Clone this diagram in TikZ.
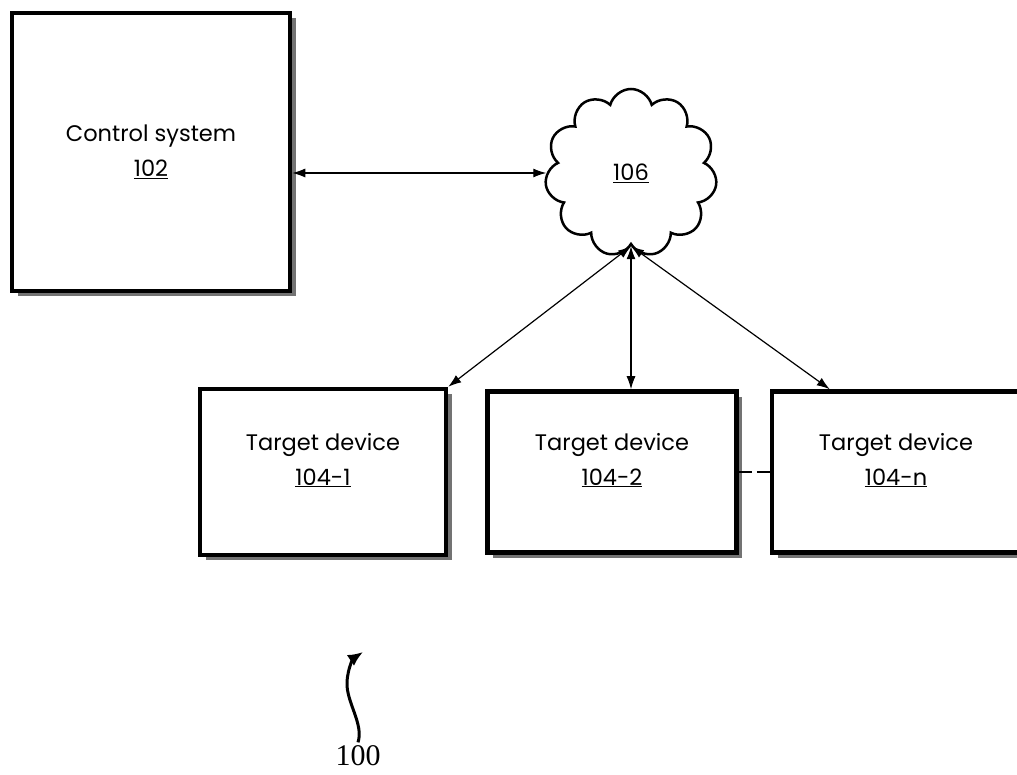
\documentclass[tikz,border=0pt]{standalone}
\usepackage{fontspec}
\setmainfont{Poppins}
\newfontfamily\reffont{Liberation Serif}
\usetikzlibrary{arrows.meta,shapes.symbols,shadows}

\begin{document}
\begin{tikzpicture}[x=1pt,y=1pt,
    box/.style={draw, line width=4.5pt, fill=white,
      drop shadow={shadow xshift=5.5pt, shadow yshift=-5.5pt, fill=black!55, opacity=1}},
    txt/.style={align=center, font=\fontsize{22.5}{35}\selectfont},
    link/.style={{Latex[length=13pt,width=9pt]}-{Latex[length=13pt,width=9pt]}, line width=1.2pt}]
  \useasboundingbox (0,0) rectangle (1017,774);

  \node[box, txt, minimum width=278, minimum height=278] (ctrl) at (151,622) {Control system\\\underline{102}};
  \node[cloud, draw, line width=2.5pt, cloud puffs=11, aspect=1,
    minimum width=172, minimum height=168, txt] (net) at (631,601) {\underline{106}};

  \node[box, minimum width=246, minimum height=166] (dev1) at (323,302) {};
  \node[box, minimum width=249, minimum height=161] (dev2) at (612,302) {};
  \node[box, minimum width=248, minimum height=161] (devn) at (896,302) {};
  \node[txt] (dev1t) at ([yshift=12]dev1.center) {Target device\\\underline{104-1}};
  \node[txt] (dev2t) at ([yshift=12]dev2.center) {Target device\\\underline{104-2}};
  \node[txt] (devnt) at ([yshift=12]devn.center) {Target device\\\underline{104-n}};

  \draw [link] (ctrl.east |- net.west) to (net.west);
  \draw [link] (net.south) to (dev1.north east);
  \draw [link] (net.south) to (net.south |- dev2.north);
  \draw [link] (net.south) to ([xshift=60]devn.north west);
  \draw [line width=1.2pt, dash pattern=on 13pt off 5pt] (dev2.east) to (devn.west);

  \node[font=\reffont\fontsize{30}{30}\selectfont] (ref) at (358,18) {100};
  \draw [line width=3pt, -{Latex[length=15pt,width=13pt]}] (ref.north)
    .. controls (364,50) and (346,72) .. (347,92)
    .. controls (348,108) and (354,116) .. (363,122);
\end{tikzpicture}
\end{document}
